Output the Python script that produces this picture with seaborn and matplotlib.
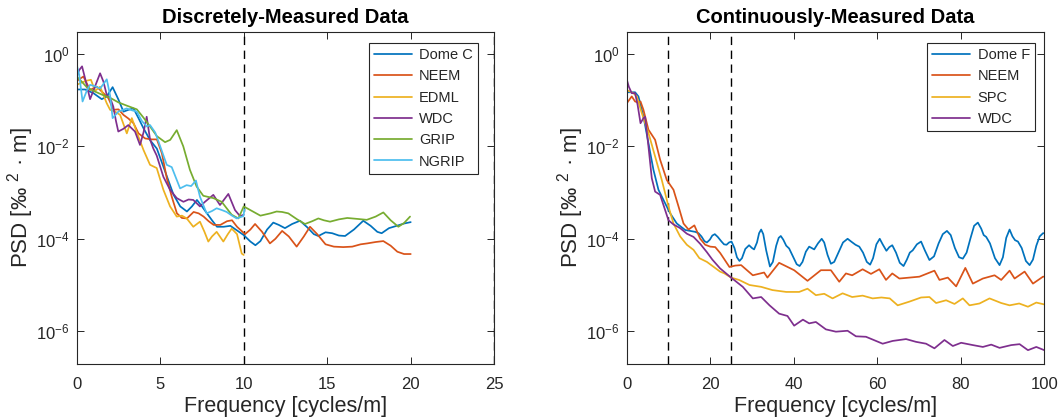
import numpy as np
import pandas as pd
import matplotlib
matplotlib.use("Agg")
import matplotlib.pyplot as plt
import seaborn as sns
from matplotlib.ticker import FixedLocator, NullLocator, LogFormatterMathtext

# ---------------- discretely-measured cores (frequency, log10 PSD) ----------------
domec_f = [0, 0.5, 1.0, 1.5, 1.8, 2.15, 2.5, 2.8, 3.1, 3.4, 3.7, 4.0, 4.4, 4.8, 5.2, 5.5, 5.8, 6.2,
           6.6, 6.9, 7.2, 7.5, 7.8, 8.1, 8.4, 8.8, 9.2, 9.6, 10.0, 10.4, 10.7, 11.0, 11.4, 11.77,
           12.1, 12.47, 12.9, 13.37, 13.8, 14.2, 14.47, 14.9, 15.3, 15.7, 16.07, 16.6, 17.16, 17.6,
           18.0, 18.26, 18.7, 19.16, 19.6, 20.0]
domec_log = [-0.77, -0.77, -0.85, -0.98, -0.92, -0.72, -0.99, -1.25, -1.21, -1.18, -1.39, -1.61,
             -1.87, -2.05, -2.45, -2.75, -3.05, -3.3, -3.41, -3.3, -3.16, -3.3, -3.45, -3.6, -3.74,
             -3.74, -3.72, -3.82, -3.92, -4.06, -4.14, -4.05, -3.8, -3.65, -3.7, -3.77, -3.68,
             -3.61, -3.75, -3.9, -3.94, -3.86, -3.88, -3.93, -3.94, -3.8, -3.61, -3.72, -3.85,
             -3.88, -3.77, -3.72, -3.67, -3.64]

neem_f = [0, 0.1, 0.4, 0.8, 1.2, 1.6, 1.9, 2.2, 2.5, 2.8, 3.1, 3.4, 3.7, 4.1, 4.5, 4.8, 5.1, 5.4,
          5.7, 6.0, 6.3, 6.6, 7.0, 7.3, 7.6, 7.9, 8.2, 8.6, 9.0, 9.3, 9.6, 10.08, 10.4, 10.68, 11.1,
          11.57, 11.9, 12.3, 12.7, 13.17, 13.6, 13.97, 14.4, 14.9, 15.4, 15.96, 16.5, 17.0, 17.4,
          17.9, 18.36, 18.8, 19.2, 19.6, 20.0]
neem_log = [-0.6, -0.56, -0.49, -0.78, -0.71, -0.85, -0.96, -1.21, -1.2, -1.32, -1.4, -1.5, -1.72,
            -1.83, -1.85, -1.85, -2.15, -2.7, -3.1, -3.45, -3.55, -3.56, -3.42, -3.45, -3.52,
            -3.62, -3.7, -3.7, -3.62, -3.6, -3.74, -3.9, -3.8, -3.68, -3.85, -4.1, -4.0, -3.83,
            -3.95, -4.17, -3.95, -3.74, -3.9, -4.12, -4.17, -4.18, -4.17, -4.12, -4.1, -4.07,
            -4.05, -4.15, -4.28, -4.33, -4.33]

edml_f = [0, 0.3, 0.6, 0.85, 1.1, 1.4, 1.8, 2.0, 2.3, 2.6, 3.0, 3.3, 3.6, 4.0, 4.39, 4.79, 5.19,
          5.59, 5.99, 6.3, 6.59, 6.98, 7.38, 7.65, 7.88, 8.1, 8.38, 8.78, 9.05, 9.28, 9.6, 9.88, 10.0]
edml_log = [-0.67, -0.62, -0.58, -0.56, -0.8, -0.71, -1.07, -1.21, -1.25, -1.32, -1.72, -1.39,
            -1.7, -2.08, -2.4, -2.47, -2.94, -3.3, -3.52, -3.5, -3.56, -3.74, -3.63, -3.85, -4.06,
            -3.95, -3.85, -4.06, -3.9, -3.78, -3.9, -4.32, -4.35]

wdc_f = [0, 0.15, 0.32, 0.55, 0.8, 1.1, 1.4, 1.6, 1.8, 2.0, 2.19, 2.35, 2.49, 2.8, 3.09, 3.49, 3.79,
         4.0, 4.19, 4.39, 4.59, 4.79, 5.19, 5.59, 5.99, 6.39, 6.7, 6.98, 7.38, 7.68, 8.18, 8.58,
         9.08, 9.48, 9.78, 10.0]
wdc_log = [-0.5, -0.35, -0.27, -0.6, -0.98, -0.7, -0.42, -0.6, -0.89, -0.95, -1.14, -1.45, -1.68,
           -1.62, -1.54, -1.68, -1.97, -1.7, -1.36, -1.85, -2.05, -2.2, -2.66, -2.94, -3.12, -3.2,
           -3.15, -3.16, -3.3, -3.2, -3.05, -3.27, -3.03, -3.38, -3.51, -3.48]

grip_f = [0, 0.3, 0.6, 1.0, 1.5, 2.0, 2.5, 3.0, 3.6, 4.0, 4.39, 4.8, 5.29, 5.6, 5.99, 6.38, 6.78,
          7.18, 7.58, 8.18, 8.68, 9.28, 9.68, 10.0, 10.5, 11.0, 11.6, 11.97, 12.3, 12.67, 13.2,
          13.67, 14.1, 14.47, 14.8, 15.17, 15.7, 16.2, 16.8, 17.37, 17.9, 18.36, 18.8, 19.26,
          19.6, 19.96]
grip_log = [-0.49, -0.6, -0.72, -0.8, -0.88, -0.95, -1.05, -1.12, -1.2, -1.38, -1.57, -1.78,
            -1.91, -1.86, -1.65, -2.0, -2.51, -2.87, -3.07, -3.12, -3.2, -3.48, -3.56, -3.3, -3.4,
            -3.5, -3.45, -3.41, -3.42, -3.45, -3.58, -3.68, -3.62, -3.56, -3.6, -3.63, -3.58,
            -3.55, -3.57, -3.59, -3.52, -3.43, -3.6, -3.74, -3.66, -3.52]

ngrip_f = [0, 0.15, 0.35, 0.6, 0.8, 1.1, 1.4, 1.8, 2.0, 2.15, 2.49, 2.99, 3.3, 3.6, 3.9, 4.19, 4.39,
           4.7, 5.0, 5.39, 5.69, 6.19, 6.58, 6.85, 7.14, 7.38, 7.78, 8.1, 8.38, 8.7, 8.98, 9.3,
           9.58, 9.98, 10.05]
ngrip_log = [-0.24, -0.45, -1.03, -0.8, -0.67, -0.7, -0.75, -0.55, -0.9, -1.39, -1.25, -1.18,
             -1.22, -1.25, -1.45, -1.57, -1.54, -1.7, -2.0, -2.4, -2.45, -2.91, -2.84, -2.86,
             -2.74, -3.09, -3.45, -3.4, -3.34, -3.38, -3.42, -3.5, -3.56, -3.51, -3.36]

# ---------------- continuously-measured cores (frequency, log10 PSD) ----------------
domef_f = [0, 1.0, 2.0, 2.8, 4.0, 5.2, 6.4, 7.6, 8.8, 10.4,
           12.0, 14.0, 16.4, 17.2, 17.9, 18.6, 19.2, 19.9, 20.5, 21.1,
           21.8, 22.7, 23.3, 23.9, 24.5, 25.1, 25.8, 26.4, 27.0, 27.6,
           28.4, 29.3, 30.0, 30.5, 31.2, 31.7, 32.2, 32.7, 33.4, 34.3,
           35.0, 35.8, 36.4, 36.9, 37.5, 38.2, 38.9, 39.8, 40.7, 41.4,
           42.1, 42.9, 43.7, 44.3, 44.9, 45.8, 46.7, 47.3, 48.1, 48.9,
           49.7, 50.7, 51.8, 52.9, 53.9, 54.8, 55.7, 56.6, 57.5, 58.3,
           59.0, 59.8, 60.6, 61.3, 62.2, 62.9, 63.6, 64.5, 65.4, 66.3,
           67.1, 67.8, 68.5, 69.5, 70.5, 71.4, 72.5, 73.6, 74.7, 75.7,
           76.7, 77.6, 78.6, 79.6, 80.5, 81.4, 82.3, 83.2, 84.1, 84.9,
           85.5, 86.1, 87.0, 88.2, 89.3, 90.1, 90.9, 91.7, 92.4, 93.0,
           93.7, 94.6, 95.6, 96.5, 97.3, 98.1, 98.9, 99.7, 100]
domef_log = [-0.83, -0.83, -0.83, -0.92, -1.35, -1.93, -2.51, -2.94, -3.16, -3.45,
             -3.67, -3.81, -3.85, -3.88, -3.95, -4.05, -4.08, -4.02, -3.93, -3.9,
             -3.96, -4.06, -4.12, -4.13, -4.08, -4.06, -4.2, -4.4, -4.48, -4.42,
             -4.22, -4.14, -4.2, -4.23, -4.08, -3.88, -3.8, -3.9, -4.25, -4.6,
             -4.5, -4.15, -3.98, -3.94, -4.02, -4.15, -4.21, -4.38, -4.55, -4.59,
             -4.5, -4.28, -4.17, -4.2, -4.23, -4.1, -4.0, -4.08, -4.35, -4.54,
             -4.5, -4.3, -4.08, -4.0, -4.07, -4.13, -4.17, -4.3, -4.5, -4.56,
             -4.42, -4.12, -4.0, -4.12, -4.26, -4.18, -4.14, -4.3, -4.52, -4.59,
             -4.45, -4.3, -4.25, -4.12, -4.06, -4.25, -4.46, -4.38, -4.1, -3.9,
             -3.83, -3.92, -4.2, -4.4, -4.43, -4.3, -4.0, -3.72, -3.65, -3.78,
             -3.92, -3.96, -4.1, -4.42, -4.57, -4.4, -3.98, -3.8, -3.95, -4.03,
             -4.06, -4.2, -4.48, -4.57, -4.45, -4.15, -3.95, -3.88, -3.88]

neemc_f = [0, 1.2, 2.0, 2.7, 3.3, 4.0, 5.2, 6.8, 8.0, 9.6, 11.2, 12.4, 13.6, 14.8, 16.2, 17.6, 18.8,
           20.0, 21.2, 22.4, 24.6, 26.0, 27.4, 30.2, 32.9, 33.7, 36.5, 40.1, 43.3, 46.5, 48.9,
           50.9, 52.5, 54.0, 56.5, 58.5, 60.5, 62.1, 63.6, 65.3, 67.7, 70.1, 73.7, 74.9, 76.9,
           78.9, 81.1, 82.9, 85.3, 88.1, 89.7, 91.7, 92.9, 95.3, 97.3, 99.7, 100]
neemc_log = [-1.07, -0.92, -1.03, -1.05, -1.03, -1.21, -1.64, -1.86, -2.29, -2.73, -2.94, -3.3,
             -3.67, -3.8, -3.71, -4.0, -4.13, -4.17, -4.18, -4.31, -4.61, -4.58, -4.57, -4.79,
             -4.73, -4.84, -4.52, -4.68, -4.91, -4.68, -4.68, -4.93, -4.75, -4.79, -4.66, -4.76,
             -4.66, -4.89, -4.75, -4.86, -4.84, -4.82, -4.69, -4.89, -4.84, -5.03, -4.63, -4.97,
             -4.86, -4.79, -4.89, -4.69, -4.86, -4.71, -4.97, -4.82, -4.82]

spc_f = [0, 1.6, 2.4, 3.6, 5.2, 6.8, 8.4, 10.0, 11.2, 12.8, 14.4, 16.0, 17.4, 19.2, 21.0, 22.35,
         23.4, 25.0, 26.9, 29.4, 32.2, 34.9, 38.2, 41.3, 43.3, 45.3, 47.3, 49.3, 51.7, 54.0, 56.5,
         58.9, 61.0, 63.0, 64.9, 67.7, 70.5, 72.5, 74.1, 76.5, 78.5, 80.5, 82.1, 84.5, 86.9,
         89.7, 91.7, 94.0, 96.1, 98.1, 100]
spc_log = [-0.78, -0.85, -0.92, -1.28, -1.71, -2.22, -2.73, -3.3, -3.67, -3.95, -4.13, -4.24,
           -4.42, -4.5, -4.62, -4.71, -4.75, -4.84, -4.89, -5.0, -5.04, -5.11, -5.15, -5.15,
           -5.08, -5.22, -5.19, -5.29, -5.18, -5.26, -5.23, -5.29, -5.27, -5.29, -5.44, -5.36,
           -5.27, -5.26, -5.39, -5.33, -5.41, -5.29, -5.44, -5.4, -5.29, -5.39, -5.44, -5.4,
           -5.47, -5.38, -5.42]

wdcc_f = [0, 0.5, 1.2, 2.0, 2.6, 3.3, 4.0, 4.4, 5.2, 6.0, 6.8, 8.0, 9.2, 10.0, 11.2, 12.8, 14.4,
          16.0, 17.6, 19.2, 20.5, 22.35, 25.0, 27.8, 30.2, 32.2, 34.2, 36.5, 38.5, 40.1, 42.2,
          43.7, 45.3, 47.7, 50.1, 52.9, 54.9, 57.3, 61.3, 63.7, 66.9, 69.3, 71.7, 73.7, 76.1,
          78.1, 80.1, 82.9, 85.3, 87.3, 89.3, 92.1, 94.1, 96.1, 98.1, 100]
wdcc_log = [-0.55, -0.71, -0.85, -0.85, -1.1, -1.5, -1.39, -1.36, -2.0, -2.69, -2.98, -3.05,
            -3.38, -3.6, -3.69, -3.77, -3.89, -3.96, -4.11, -4.29, -4.45, -4.64, -4.84, -5.04,
            -5.29, -5.26, -5.44, -5.62, -5.67, -5.88, -5.75, -5.83, -5.8, -5.96, -6.01, -5.99,
            -6.11, -6.12, -6.27, -6.21, -6.17, -6.23, -6.27, -6.37, -6.19, -6.32, -6.25, -6.3,
            -6.34, -6.29, -6.36, -6.3, -6.28, -6.41, -6.34, -6.41]

discrete_names = ["Dome C", "NEEM", "EDML", "WDC", "GRIP", "NGRIP"]
continuous_names = ["Dome F", "NEEM", "SPC", "WDC"]
cutoffs = [10, 25]

blue, orange, yellow, purple, green, cyan = (
    "#0072BD", "#D95319", "#EDB120", "#7E2F8E", "#77AC30", "#4DBEEE")


def long_frame(names, pairs):
    parts = []
    for name, (f, lg) in zip(names, pairs):
        parts.append(pd.DataFrame({"Frequency": f,
                                   "PSD": np.power(10.0, np.asarray(lg, float)),
                                   "core": name}))
    return pd.concat(parts, ignore_index=True)


disc = long_frame(discrete_names,
                  [(domec_f, domec_log), (neem_f, neem_log), (edml_f, edml_log),
                   (wdc_f, wdc_log), (grip_f, grip_log), (ngrip_f, ngrip_log)])
cont = long_frame(continuous_names,
                  [(domef_f, domef_log), (neemc_f, neemc_log), (spc_f, spc_log),
                   (wdcc_f, wdcc_log)])

sns.set_style("ticks")
plt.rcParams["font.family"] = ["Liberation Sans", "DejaVu Sans"]
plt.rcParams["mathtext.fontset"] = "custom"
plt.rcParams["mathtext.rm"] = "Liberation Sans"
plt.rcParams["mathtext.it"] = "Liberation Sans:italic"
plt.rcParams["mathtext.bf"] = "Liberation Sans:bold"

axcol = "#262626"
fig = plt.figure(figsize=(10.61, 4.17), dpi=100)
ax1 = fig.add_axes([0.0723, 0.127, 0.3935, 0.797])
ax2 = fig.add_axes([0.5907, 0.127, 0.3935, 0.797])

panels = [
    (ax1, disc, discrete_names, [blue, orange, yellow, purple, green, cyan],
     "Discretely-Measured Data", (0, 25), [0, 5, 10, 15, 20, 25], 0.961),
    (ax2, cont, continuous_names, [blue, orange, yellow, purple],
     "Continuously-Measured Data", (0, 100), [0, 20, 40, 60, 80, 100], 0.978),
]

for ax, df, names, cols, title, xlim, xt, lx in panels:
    sns.lineplot(data=df, x="Frequency", y="PSD", hue="core", hue_order=names,
                 palette=cols, estimator=None, sort=True, linewidth=1.25, ax=ax,
                 legend=False)
    for ln in ax.lines:
        ln.set_solid_joinstyle("round")
    ax.set_yscale("log")
    ax.set_xlim(*xlim)
    ax.set_ylim(10 ** -6.71, 10 ** 0.48)
    ax.set_xticks(xt)
    ax.yaxis.set_major_locator(FixedLocator([1e-6, 1e-4, 1e-2, 1e0]))
    ax.yaxis.set_minor_locator(NullLocator())
    ax.yaxis.set_major_formatter(LogFormatterMathtext())
    ax.tick_params(direction="in", length=5, width=0.7, top=True, right=True,
                   colors=axcol, labelsize=12, labelcolor=axcol)
    ax.tick_params(axis="x", pad=9)
    ax.tick_params(axis="y", pad=5)
    for s in ax.spines.values():
        s.set_color(axcol)
        s.set_linewidth(0.8)
    ax.set_title(title, fontsize=14.5, fontweight="bold", color="black", pad=6)
    ax.set_xlabel("Frequency [cycles/m]", fontsize=15.5, color=axcol, labelpad=3)
    ax.set_ylabel("PSD [‰ $^{2}$ · m]", fontsize=16, color=axcol, labelpad=0)
    handles = ax.lines[:len(names)]
    leg = ax.legend(handles, names, loc="upper right", bbox_to_anchor=(lx, 0.966),
                    borderaxespad=0, fontsize=10.5, frameon=True, fancybox=False,
                    edgecolor=axcol, framealpha=1, handlelength=2.6, handletextpad=0.5,
                    labelspacing=0.5, borderpad=0.35)
    leg.get_frame().set_linewidth(0.8)
    for c in cutoffs:
        ax.axvline(c, color="black", linestyle=(0, (6, 4)), linewidth=1.0, zorder=1)

fig.savefig("out.png", dpi=100)
